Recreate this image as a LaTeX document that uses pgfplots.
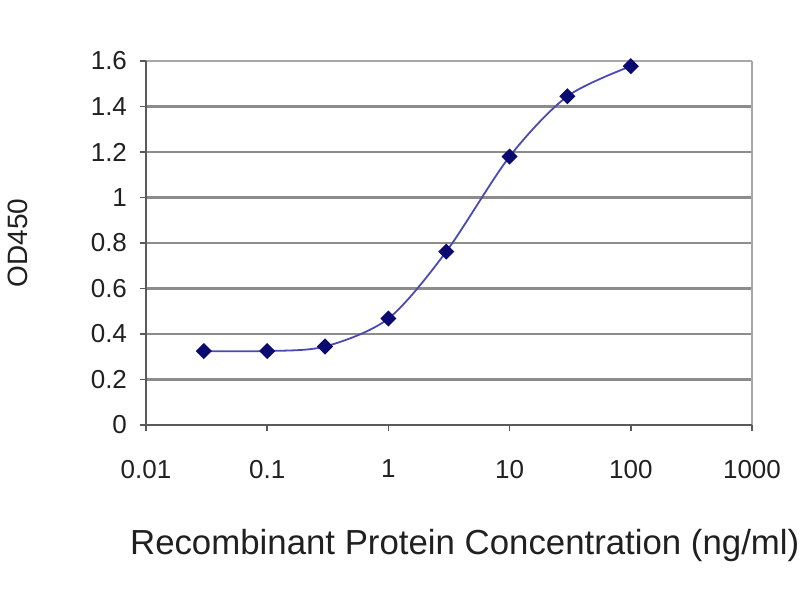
\documentclass[border=0pt]{standalone}
\usepackage{pgfplots}
\pgfplotsset{compat=1.18}
\usepackage{fontspec}
\setmainfont{Liberation Sans}
\definecolor{gridgray}{HTML}{8C8C8C}
\definecolor{axisdark}{HTML}{5A5A5A}
\definecolor{axislight}{HTML}{A8A8A8}
\definecolor{linecol}{HTML}{4A4AB0}
\definecolor{markcol}{HTML}{0A0A70}
\definecolor{txt}{HTML}{202020}
\begin{document}
\begin{tikzpicture}
\path[use as bounding box] (-73pt,-87.5pt) rectangle (327pt,212.5pt);
\begin{axis}[
  at={(0pt,0pt)}, anchor=south west,
  scale only axis=true,
  width=303pt, height=182pt,
  xmode=log,
  xmin=0.01, xmax=1000,
  ymin=0, ymax=1.6,
  xtick={0.01,0.1,1,10,100,1000},
  xticklabels={0.01,0.1,1,10,100,1000},
  xminorticks=false,
  ytick={0,0.2,0.4,0.6,0.8,1,1.2,1.4,1.6},
  yticklabels={0,0.2,0.4,0.6,0.8,1,1.2,1.4,1.6},
  /pgf/number format/assume math mode=true,
  tick label style={font=\fontsize{13}{15}\selectfont, text=txt},
  xticklabel style={yshift=-11pt},
  yticklabel style={xshift=-3pt},
  ymajorgrids=true,
  major grid style={gridgray, line width=1.1pt},
  axis line style={draw=none},
  xtick style={axisdark, line width=0.8pt},
  ytick style={axisdark, line width=0.8pt},
  major tick length=3pt,
  xtick pos=bottom, ytick pos=left,
  tick align=outside,
  xlabel={Recombinant Protein Concentration (ng/ml)},
  ylabel={OD450},
  xlabel style={font=\fontsize{17.4}{20}\selectfont, text=txt, at={(axis description cs:0.526,-0.33)}, anchor=center},
  ylabel style={font=\fontsize{14}{16}\selectfont, text=txt, at={(axis description cs:-0.211,0.5)}, anchor=center},
  clip=false,
]
\draw[axislight, line width=1pt] (rel axis cs:1,0) -- (rel axis cs:1,1);
\draw[axislight, line width=1pt] (rel axis cs:0,1) -- (rel axis cs:1,1);
\draw[axisdark, line width=1.1pt] (rel axis cs:0,1) -- (rel axis cs:0,0) -- (rel axis cs:1,0);
\addplot[linecol, line width=0.9pt, smooth, tension=0.5,
  mark=square*, mark size=2.4pt,
  mark options={rotate=45, fill=markcol, draw=markcol, solid}]
  coordinates {
  (0.03,0.325) (0.1,0.325) (0.3,0.345) (1,0.468) (3,0.762) (10,1.18) (30,1.445) (100,1.577)
  };
\end{axis}
\end{tikzpicture}
\end{document}
